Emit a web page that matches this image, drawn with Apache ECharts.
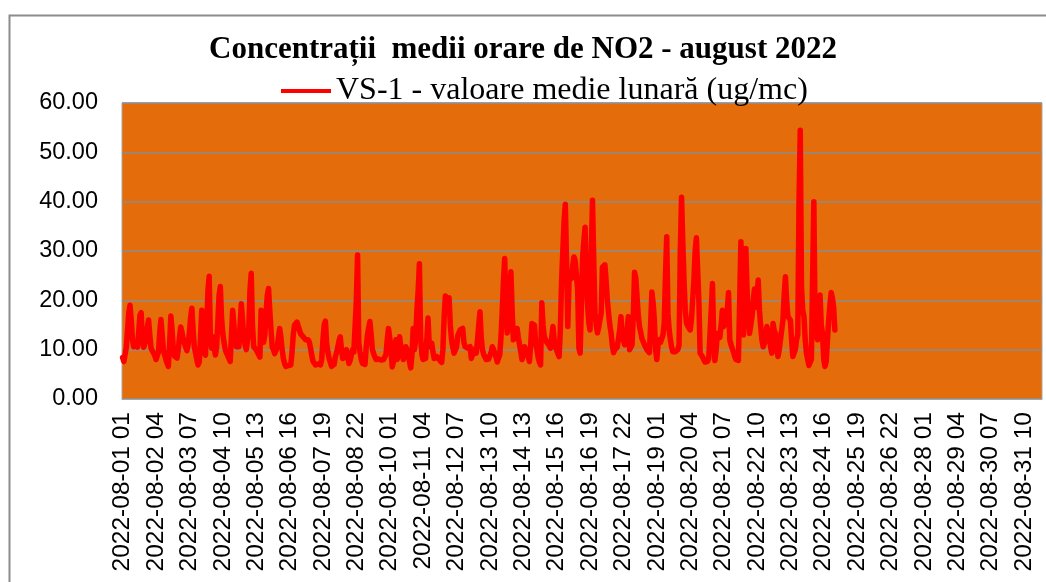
<!DOCTYPE html>
<html lang="ro">
<head>
<meta charset="utf-8">
<title>NO2 - august 2022</title>
<script src="https://cdn.jsdelivr.net/npm/echarts@6/dist/echarts.min.js"></script>
<style>
  html, body { margin: 0; padding: 0; background: #fff; }
  #chart { width: 1046px; height: 582px; }
</style>
</head>
<body>
<div id="chart"></div>
<script>
// valori orare NO2 (ug/mc) - o linie = o zi
var week1 = [
  8.4,7.6,8.0,10.5,14.0,17.5,19.0,16.0,12.0,10.6,11.0,11.5,10.5,13.5,17.0,17.5,12.0,10.5,10.5,12.0,14.5,16.0,13.0,10.3,
  9.8,9.3,8.8,8.0,7.6,9.5,13.5,16.1,13.0,10.0,8.9,8.0,7.2,6.6,11.0,16.8,14.0,10.0,8.7,8.5,8.3,10.0,12.5,14.6,
  13.5,12.2,11.3,10.5,9.8,11.0,13.5,16.5,18.4,14.0,10.5,9.3,8.0,6.9,7.5,12.5,18.0,13.0,9.5,8.9,15.0,22.0,24.9,12.0,
  10.3,12.6,10.5,8.9,10.5,15.5,21.0,22.8,16.5,13.3,11.5,10.0,9.3,8.8,8.2,7.6,7.3,18.0,15.0,11.5,10.6,10.4,10.6,15.0,
  19.3,16.0,12.6,11.0,10.0,9.6,14.0,22.0,25.5,15.0,10.6,10.2,10.0,10.0,9.0,8.5,18.0,14.5,11.5,13.0,17.5,21.0,22.4,18.0,
  14.0,10.5,10.0,9.2,9.0,10.5,12.5,14.3,12.5,10.0,8.2,7.2,6.6,6.7,6.8,6.9,6.9,9.5,13.0,15.0,15.3,15.6,16.0,14.0,
  13.2,12.8,12.6,12.3,12.0,12.0,12.0,11.5,10.3,8.8,7.6,7.2,6.9,7.0,7.1,6.9,6.9,8.0,12.0,15.0,15.8,11.3,9.5,8.2
];
var week2 = [
  7.4,6.6,6.2,7.0,8.5,9.4,10.5,11.8,12.6,10.0,8.2,8.5,9.5,10.0,8.5,7.2,7.8,9.0,10.0,9.5,9.2,20.0,29.2,11.3,
  9.5,8.0,7.2,6.9,7.0,10.5,13.0,14.5,15.7,13.0,10.0,9.2,8.5,8.0,8.0,8.1,8.0,7.9,8.0,8.0,8.4,9.0,12.0,14.3,
  12.5,10.3,6.5,7.5,10.0,12.0,8.0,10.5,12.6,10.5,9.0,8.0,9.0,10.6,10.0,9.3,7.5,6.3,9.0,14.3,10.0,12.0,18.0,22.0,
  27.4,12.6,9.0,8.0,8.1,8.2,12.0,16.4,10.6,11.0,11.3,9.5,8.2,8.4,8.6,8.3,8.0,7.7,7.4,10.0,16.5,20.9,20.3,20.1,
  20.5,15.0,12.0,10.5,9.3,9.0,10.5,12.8,13.4,14.0,14.3,14.3,11.5,10.6,10.4,10.3,10.5,10.6,8.2,9.0,10.0,9.6,9.3,12.0,
  15.0,17.7,12.5,10.0,9.0,8.5,8.0,8.0,8.1,8.2,9.5,10.6,10.0,9.6,8.5,7.5,7.2,9.0,12.6,18.0,24.0,28.5,18.0,13.4,
  15.0,21.0,25.8,18.0,12.0,12.5,13.5,14.3,12.5,11.0,9.5,8.0,9.0,10.6,10.0,9.6,8.5,7.6,11.0,15.3,15.2,15.0,11.5,10.0
];
var week3 = [
  8.5,7.5,6.9,19.5,15.0,12.6,12.0,11.5,11.3,10.8,10.3,12.5,14.7,12.0,10.5,9.9,9.2,8.6,14.0,24.1,30.0,36.0,39.5,28.0,
  14.7,24.0,24.0,24.5,27.0,28.8,28.0,25.0,22.1,10.3,9.3,9.0,28.8,32.0,34.8,24.1,19.0,15.5,14.0,30.0,40.3,28.0,17.4,15.0,
  13.4,14.5,16.0,17.4,26.7,27.0,27.2,24.0,20.0,17.4,15.0,13.4,11.0,9.4,10.0,10.3,10.5,10.7,14.0,16.7,13.0,12.0,11.0,10.7,
  14.0,16.7,10.0,10.5,11.0,17.0,25.7,24.5,24.1,17.0,14.7,13.5,12.2,12.0,11.0,10.7,10.0,9.6,9.4,15.0,21.7,19.5,16.0,10.0,
  8.0,11.0,12.0,11.5,11.3,13.0,15.4,25.0,32.9,17.4,14.0,12.0,10.5,9.6,9.6,9.6,9.6,10.0,11.0,30.0,40.9,32.0,24.1,18.0,
  15.4,14.8,14.5,14.0,16.0,20.1,24.0,30.0,32.7,32.6,20.0,9.3,9.0,8.5,8.0,7.5,7.2,7.6,8.2,8.6,18.0,23.4,12.6,7.8,
  10.0,13.3,13.0,12.5,15.0,18.0,14.7,15.0,15.5,18.0,21.6,12.0,11.0,10.7,9.5,8.6,8.0,7.6,7.8,8.0,31.9,22.0,13.0,22.0
];
var week4 = [
  30.5,22.0,16.0,13.3,15.0,16.7,20.0,22.3,18.6,21.0,24.1,18.0,14.7,12.0,10.6,10.3,12.0,14.7,13.5,13.0,10.5,9.3,15.3,13.8,
  13.3,10.5,8.6,10.0,12.0,14.0,16.0,21.0,24.8,20.0,16.7,16.3,16.0,12.0,8.6,9.0,10.0,12.0,13.0,40.0,54.5,22.8,18.0,16.7,
  12.0,9.3,8.0,6.8,6.6,8.0,25.0,40.0,16.0,13.0,12.0,18.0,21.1,15.0,13.3,8.0,6.6,7.6,12.0,16.0,19.0,21.6,20.5,18.6,
  14.0
];

var chartTitle = 'Concentrații  medii orare de NO2 - august 2022';
var seriesName = 'VS-1 - valoare medie lunară (ug/mc)';

// etichete ore: 2022-08-01 01 ... 2022-08-31 24
function pad(n) { return n < 10 ? '0' + n : String(n); }
var hours = [];
for (var d = 1; d <= 31; d++) {
  for (var h = 1; h <= 24; h++) {
    hours.push('2022-08-' + pad(d) + ' ' + pad(h));
  }
}

var values = [].concat(week1, week2, week3, week4);

var chart = echarts.init(document.getElementById('chart'));
chart.setOption({
  animation: false,
  backgroundColor: '#ffffff',
  title: {
    text: chartTitle,
    left: 'center',
    top: 29,
    textStyle: { fontFamily: 'Liberation Serif', fontWeight: 'bold', fontSize: 31, color: '#000' }
  },
  legend: {
    left: 276,
    top: 70,
    itemWidth: 50,
    itemHeight: 4,
    icon: 'rect',
    itemGap: 6,
    textStyle: { fontFamily: 'Liberation Serif', fontSize: 32, color: '#000' },
    data: [seriesName]
  },
  grid: {
    left: 122,
    top: 103,
    right: 4,
    bottom: 183,
    show: true,
    backgroundColor: '#E46C0A',
    borderColor: '#A6A6A6',
    borderWidth: 1
  },
  xAxis: {
    type: 'category',
    data: hours,
    boundaryGap: true,
    axisLine: { lineStyle: { color: '#A6A6A6' } },
    axisTick: { show: false },
    axisLabel: {
      interval: 26,
      rotate: 90,
      margin: 13,
      fontFamily: 'Liberation Sans',
      fontSize: 24.5,
      color: '#000'
    }
  },
  yAxis: {
    type: 'value',
    min: 0,
    max: 60,
    interval: 10,
    axisLine: { show: false },
    axisTick: { show: false },
    splitLine: { lineStyle: { color: '#8C8C8C', width: 1.5 } },
    axisLabel: {
      margin: 24,
      fontFamily: 'Liberation Sans',
      fontSize: 23.5,
      color: '#000',
      formatter: function (v) { return v.toFixed(2); }
    }
  },
  graphic: [{
    type: 'rect',
    left: 7,
    top: 13,
    z: -1,
    shape: { width: 1100, height: 700 },
    style: { fill: 'none', stroke: '#8C8C8C', lineWidth: 2 }
  }],
  series: [{
    name: seriesName,
    type: 'line',
    data: values,
    showSymbol: false,
    symbol: 'none',
    itemStyle: { color: '#FF0000' },
    lineStyle: { color: '#FF0000', width: 5.5, cap: 'round', join: 'round' }
  }]
});
</script>
</body>
</html>
